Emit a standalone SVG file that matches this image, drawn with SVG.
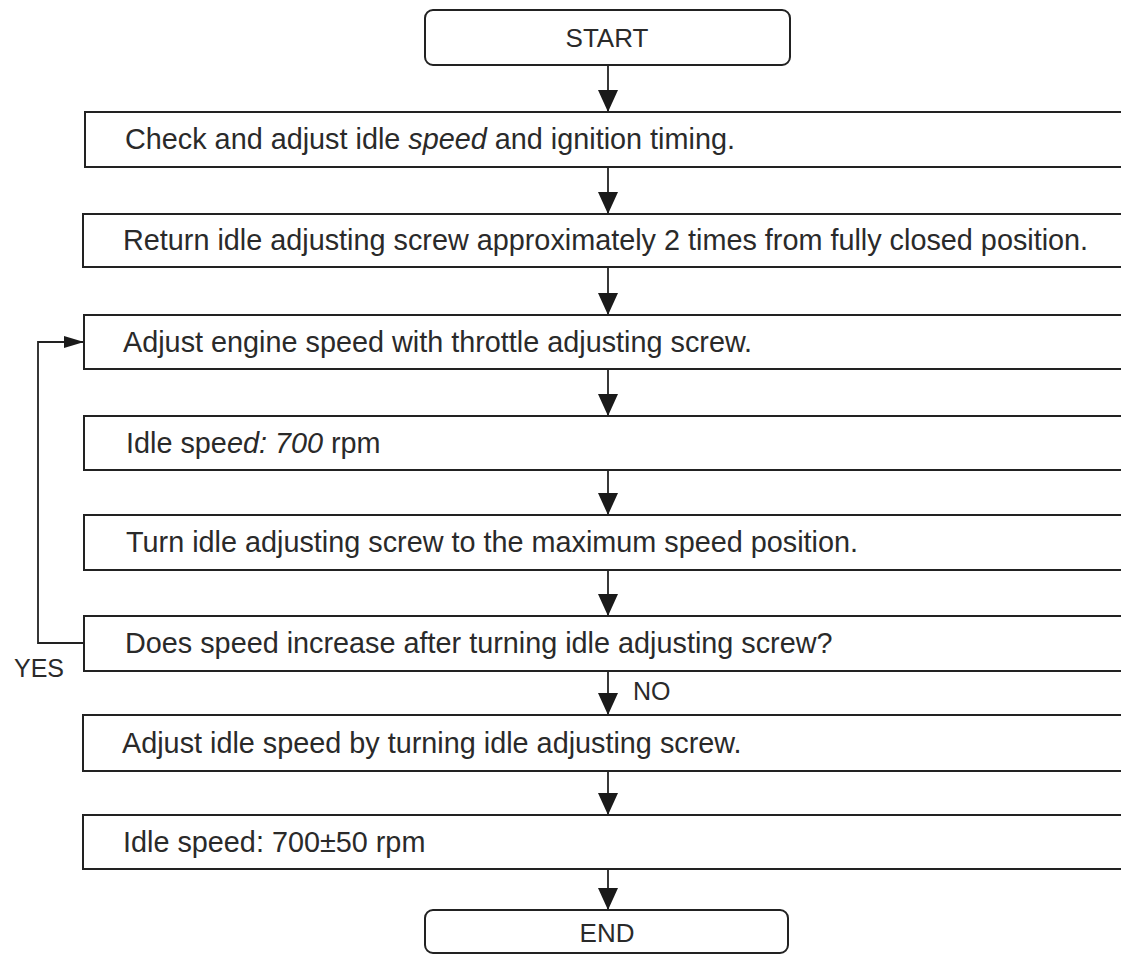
<svg xmlns="http://www.w3.org/2000/svg" width="1121" height="956" viewBox="0 0 1121 956">
<style>
.box{fill:#fff;stroke:#222;stroke-width:2}
.t{font-family:"Liberation Sans",Arial,sans-serif;font-size:28.8px;fill:#2a2a2a}
.term{font-family:"Liberation Sans",Arial,sans-serif;font-size:26px;fill:#2a2a2a;text-anchor:middle}
.lbl{font-family:"Liberation Sans",Arial,sans-serif;font-size:25px;fill:#2a2a2a}
.ln{fill:none;stroke:#222;stroke-width:1.8}
</style>
<defs>
<marker id="ah" markerWidth="22" markerHeight="20" refX="22" refY="10" orient="auto" markerUnits="userSpaceOnUse" viewBox="0 0 22 20">
<path d="M0,0 L22,10 L0,20 Z" fill="#1a1a1a"/>
</marker>
<marker id="ahs" markerWidth="20" markerHeight="12" refX="20" refY="6" orient="auto" markerUnits="userSpaceOnUse" viewBox="0 0 20 12">
<path d="M0,0 L20,6 L0,12 Z" fill="#1a1a1a"/>
</marker>
</defs>
<rect width="1121" height="956" fill="#fff"/>
<g id="connectors">
<line class="ln" x1="608" y1="65" x2="608" y2="112" marker-end="url(#ah)"/>
<line class="ln" x1="608" y1="167" x2="608" y2="214" marker-end="url(#ah)"/>
<line class="ln" x1="608" y1="267" x2="608" y2="315" marker-end="url(#ah)"/>
<line class="ln" x1="608" y1="369" x2="608" y2="416" marker-end="url(#ah)"/>
<line class="ln" x1="608" y1="470" x2="608" y2="515" marker-end="url(#ah)"/>
<line class="ln" x1="608" y1="570" x2="608" y2="616" marker-end="url(#ah)"/>
<line class="ln" x1="608" y1="671" x2="608" y2="715" marker-end="url(#ah)"/>
<line class="ln" x1="608" y1="771" x2="608" y2="815" marker-end="url(#ah)"/>
<line class="ln" x1="608" y1="869" x2="608" y2="910" marker-end="url(#ah)"/>
<path class="ln" d="M84,643 L38,643 L38,342 L84,342" marker-end="url(#ahs)"/>
<text class="lbl" x="633" y="700">NO</text>
<text class="lbl" x="14" y="677">YES</text>
</g>
<g id="start">
<rect class="box" x="425" y="10" width="365" height="55" rx="8"/>
<text class="term" x="607" y="47">START</text>
</g>
<g id="step1">
<rect class="box" x="85" y="112" width="1045" height="55"/>
<text class="t" x="125" y="149">Check and adjust idle <tspan font-style="italic">speed</tspan> and ignition timing.</text>
</g>
<g id="step2">
<rect class="box" x="83" y="214" width="1047" height="53"/>
<text class="t" x="123" y="250">Return idle adjusting screw approximately 2 times from fully closed position.</text>
</g>
<g id="step3">
<rect class="box" x="84" y="315" width="1046" height="54"/>
<text class="t" x="123" y="352">Adjust engine speed with throttle adjusting screw.</text>
</g>
<g id="step4">
<rect class="box" x="84" y="416" width="1046" height="54"/>
<text class="t" x="126" y="453">Idle spe<tspan font-style="italic">ed: 700</tspan> rpm</text>
</g>
<g id="step5">
<rect class="box" x="84" y="515" width="1046" height="55"/>
<text class="t" x="126" y="552">Turn idle adjusting screw to the maximum speed position.</text>
</g>
<g id="step6">
<rect class="box" x="84" y="616" width="1046" height="55"/>
<text class="t" x="125" y="653">Does speed increase after turning idle adjusting screw?</text>
</g>
<g id="step7">
<rect class="box" x="83" y="715" width="1047" height="56"/>
<text class="t" x="122" y="753">Adjust idle speed by turning idle adjusting screw.</text>
</g>
<g id="step8">
<rect class="box" x="83" y="815" width="1047" height="54"/>
<text class="t" x="123" y="852">Idle speed: 700±50 rpm</text>
</g>
<g id="end">
<rect class="box" x="425" y="910" width="363" height="43" rx="8"/>
<text class="term" x="607" y="942">END</text>
</g>
</svg>
